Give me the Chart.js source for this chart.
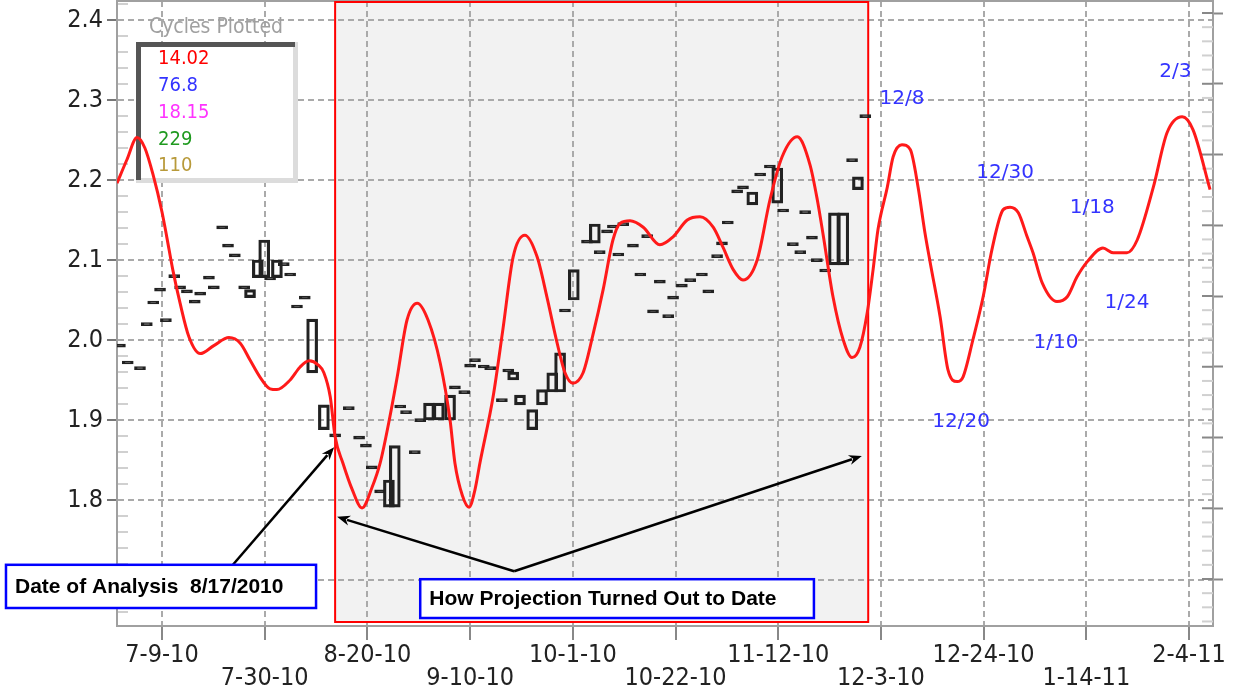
<!DOCTYPE html>
<html>
<head>
<meta charset="utf-8">
<script src="https://cdn.jsdelivr.net/npm/chart.js@4.4.1/dist/chart.umd.min.js"></script>
<style>
  html, body { margin: 0; padding: 0; background: #fff; }
  #wrap { width: 1234px; height: 696px; }
</style>
</head>
<body>
<div id="wrap"><canvas id="cycleChart" width="1234" height="696"></canvas></div>
<script>
// x values are days counted from 7/9/2010
const tickDays = [0, 21, 42, 63, 84, 105, 126, 147, 168, 189, 210];
const tickLabels = ['7-9-10', '7-30-10', '8-20-10', '9-10-10', '10-1-10', '10-22-10',
                    '11-12-10', '12-3-10', '12-24-10', '1-14-11', '2-4-11'];
const yTicks = [1.7, 1.8, 1.9, 2.0, 2.1, 2.2, 2.3, 2.4];

// composite cycle projection (red)
const cycleDays = [-9.2, -7.2, -5.1, -3.5, -1.8, 0, 1.0, 2.2, 3.7, 5.5,
  7.8, 10.6, 13.7, 16.0, 18.0, 20.0, 22.1, 23.5, 26.2, 28.2,
  30.1, 31.9, 33.1, 34.4, 35.4, 37.0, 38.9, 40.9, 42.9, 44.6,
  46.6, 48.1, 50.1, 52.2, 54.4, 56.9, 58.9, 59.9, 61.4, 62.8,
  64.0, 65.0, 67.7, 69.7, 71.8, 74.2, 76.7, 78.7, 80.8, 82.4,
  84.0, 86.1, 88.1, 90.2, 92.2, 93.7, 95.7, 98.4, 101.8, 104.5,
  107.4, 110.0, 112.7, 114.7, 116.8, 118.8, 121.7, 124.3, 126.8, 129.9,
  132.5, 134.0, 135.2, 137.2, 139.3, 141.1, 142.7, 144.2, 145.4, 146.4,
  148.3, 149.5, 151.3, 153.0, 154.6, 156.0, 157.1, 159.1, 160.7, 162.6,
  163.8, 165.8, 167.9, 169.7, 172.0, 173.4, 175.1, 176.9, 178.1, 180.0,
  183.0, 185.1, 187.1, 189.2, 192.4, 194.5, 197.3, 199.4, 202.7, 205.5, 208.6,
  210.8, 214.3];
const cycleValues = [2.196, 2.225, 2.253, 2.240, 2.206, 2.160, 2.128, 2.088, 2.046, 2.004,
  1.983, 1.993, 2.003, 1.996, 1.975, 1.954, 1.939, 1.938, 1.950, 1.966,
  1.974, 1.969, 1.959, 1.929, 1.879, 1.846, 1.813, 1.790, 1.815, 1.846,
  1.904, 1.954, 2.025, 2.046, 2.025, 1.971, 1.900, 1.846, 1.806, 1.791,
  1.813, 1.846, 1.929, 2.013, 2.104, 2.131, 2.104, 2.054, 1.996, 1.959,
  1.946, 1.959, 2.006, 2.063, 2.125, 2.146, 2.149, 2.141, 2.119, 2.129,
  2.150, 2.154, 2.141, 2.116, 2.088, 2.075, 2.100, 2.175, 2.229, 2.254,
  2.219, 2.175, 2.131, 2.054, 2.000, 1.978, 1.991, 2.034, 2.088, 2.138,
  2.191, 2.229, 2.244, 2.238, 2.191, 2.134, 2.096, 2.029, 1.963, 1.948,
  1.954, 2.000, 2.054, 2.113, 2.163, 2.166, 2.159, 2.129, 2.109, 2.071,
  2.048, 2.054, 2.079, 2.098, 2.115, 2.109, 2.109, 2.125, 2.191, 2.259, 2.279,
  2.263, 2.188];

// daily price bars (black)
const priceDays = [-8.6, -7.0, -4.5, -3.1, -1.8, -0.4, 0.8, 2.5, 3.7, 5.1,
  6.7, 7.8, 9.6, 10.6, 12.3, 13.5, 14.9, 16.8, 18.0, 19.6,
  20.9, 22.1, 23.5, 24.9, 26.2, 27.6, 29.2, 30.7, 33.1, 35.4,
  38.2, 40.3, 41.7, 42.9, 44.6, 46.4, 47.6, 48.7, 49.9, 51.7,
  52.8, 54.6, 56.6, 58.9, 59.9, 61.8, 63.0, 64.0, 65.8, 67.1,
  69.5, 70.8, 71.8, 73.2, 75.7, 77.7, 79.8, 81.4, 82.4, 84.2,
  86.9, 88.5, 89.5, 91.0, 92.2, 93.3, 94.3, 96.3, 97.8, 99.2,
  100.4, 101.8, 103.5, 104.5, 106.3, 108.0, 110.4, 111.7, 113.5, 114.5,
  115.7, 117.6, 118.8, 120.7, 122.3, 124.3, 125.8, 127.0, 129.0, 130.5,
  131.5, 132.9, 133.9, 135.6, 137.4, 139.3, 141.1, 142.3, 143.8];
const priceLow = [1.991, 1.970, 1.963, 2.018, 2.045, 2.061, 2.023, 2.078, 2.064, 2.059,
  2.046, 2.056, 2.076, 2.064, 2.139, 2.116, 2.104, 2.064, 2.053, 2.078,
  2.078, 2.075, 2.078, 2.093, 2.080, 2.040, 2.051, 1.959, 1.888, 1.879,
  1.913, 1.876, 1.866, 1.839, 1.809, 1.791, 1.791, 1.915, 1.908, 1.858,
  1.898, 1.900, 1.900, 1.900, 1.939, 1.933, 1.966, 1.973, 1.965, 1.963,
  1.923, 1.960, 1.950, 1.919, 1.888, 1.919, 1.935, 1.935, 2.035, 2.050,
  2.121, 2.121, 2.108, 2.134, 2.140, 2.105, 2.143, 2.116, 2.080, 2.128,
  2.034, 2.071, 2.028, 2.051, 2.066, 2.073, 2.080, 2.059, 2.103, 2.119,
  2.145, 2.184, 2.189, 2.169, 2.205, 2.215, 2.171, 2.160, 2.118, 2.108,
  2.158, 2.126, 2.098, 2.085, 2.094, 2.094, 2.223, 2.188, 2.278];
const priceHigh = [1.991, 1.970, 1.963, 2.018, 2.045, 2.061, 2.023, 2.078, 2.064, 2.059,
  2.046, 2.056, 2.076, 2.064, 2.139, 2.116, 2.104, 2.064, 2.063, 2.100,
  2.125, 2.075, 2.100, 2.093, 2.080, 2.040, 2.051, 2.026, 1.919, 1.879,
  1.913, 1.876, 1.866, 1.839, 1.809, 1.825, 1.868, 1.915, 1.908, 1.858,
  1.898, 1.921, 1.921, 1.931, 1.939, 1.933, 1.966, 1.973, 1.965, 1.963,
  1.923, 1.960, 1.960, 1.931, 1.913, 1.938, 1.959, 1.984, 2.035, 2.088,
  2.121, 2.145, 2.108, 2.134, 2.140, 2.105, 2.143, 2.116, 2.080, 2.128,
  2.034, 2.071, 2.028, 2.051, 2.066, 2.073, 2.080, 2.059, 2.103, 2.119,
  2.145, 2.184, 2.189, 2.185, 2.205, 2.215, 2.215, 2.160, 2.118, 2.108,
  2.158, 2.126, 2.098, 2.085, 2.159, 2.159, 2.223, 2.204, 2.278];

// "Cycles Plotted" box
const cyclePeriods = ['14.02', '76.8', '18.15', '229', '110'];
const cycleColors = ['#ff0000', '#3333ff', '#ff33ff', '#1f9a1f', '#b89a3a'];

// projected turning dates (blue labels)
const turnLabels = ['12/8', '12/20', '12/30', '1/10', '1/18', '1/24', '2/3'];
const turnDays = [151.3, 163.4, 172.4, 182.8, 190.2, 197.3, 207.2];
const turnValues = [2.301, 1.898, 2.209, 1.996, 2.165, 2.046, 2.335];

// window checked after the analysis date
const checkStartDay = 35.4;
const checkEndDay = 144.4;

// callout boxes and arrows, in chart units
const noteTexts = ['Date of Analysis  8/17/2010', 'How Projection Turned Out to Date'];
const noteLeft = [-31.9, 52.8];
const noteRight = [31.5, 133.3];
const noteTop = [1.719, 1.701];
const noteBottom = [1.665, 1.6525];
const arrowFrom = [[14.5, 1.719], [72.0, 1.711], [72.0, 1.711]];
const arrowTo = [[35.2, 1.866], [35.8, 1.779], [143.1, 1.855]];

const tahoma = "'DejaVu Sans Condensed', 'Liberation Sans', sans-serif";
const verdana = "'DejaVu Sans', Verdana, sans-serif";
const frameGray = '#a0a0a0';

function drawArrow(ctx, x1, y1, x2, y2) {
  const ang = Math.atan2(y2 - y1, x2 - x1);
  const len = 13, half = 5;
  ctx.beginPath();
  ctx.moveTo(x1, y1);
  ctx.lineTo(x2 - Math.cos(ang) * len * 0.8, y2 - Math.sin(ang) * len * 0.8);
  ctx.stroke();
  ctx.beginPath();
  ctx.moveTo(x2, y2);
  ctx.lineTo(x2 - Math.cos(ang) * len + Math.sin(ang) * half, y2 - Math.sin(ang) * len - Math.cos(ang) * half);
  ctx.lineTo(x2 - Math.cos(ang) * len * 0.7, y2 - Math.sin(ang) * len * 0.7);
  ctx.lineTo(x2 - Math.cos(ang) * len - Math.sin(ang) * half, y2 - Math.sin(ang) * len + Math.cos(ang) * half);
  ctx.closePath();
  ctx.fill();
}

const decorations = {
  id: 'decorations',
  beforeDraw(chart) {
    const { ctx, chartArea: ca, scales: { x } } = chart;
    ctx.save();
    ctx.fillStyle = '#fff';
    ctx.fillRect(0, 0, chart.width, chart.height);
    const x0 = x.getPixelForValue(checkStartDay), x1 = x.getPixelForValue(checkEndDay);
    ctx.fillStyle = '#f2f2f2';
    ctx.fillRect(x0, ca.top + 1, x1 - x0, ca.bottom - ca.top - 5);
    ctx.restore();
  },
  beforeDatasetsDraw(chart) {
    const { ctx, chartArea: ca, scales: { x, y, y2 } } = chart;
    ctx.save();
    // top frame line
    ctx.strokeStyle = frameGray;
    ctx.lineWidth = 2;
    ctx.beginPath();
    ctx.moveTo(ca.left, ca.top);
    ctx.lineTo(ca.right, ca.top);
    ctx.stroke();
    // minor ticks, left axis (inside)
    ctx.strokeStyle = '#d0d0d0';
    for (let k = 83; k <= 121; k++) {
      if (k % 5 === 0) continue;
      const py = y.getPixelForValue(k / 50);
      ctx.beginPath();
      ctx.moveTo(ca.left + 1, py);
      ctx.lineTo(ca.left + 11, py);
      ctx.stroke();
    }
    // right axis (unlabelled) ticks, inner part
    for (let k = -3; k <= 40; k++) {
      const py = y2.getPixelForValue(k / 5);
      ctx.strokeStyle = k % 5 === 0 ? '#888' : '#d0d0d0';
      ctx.beginPath();
      ctx.moveTo(ca.right - 11, py);
      ctx.lineTo(ca.right, py);
      ctx.stroke();
    }
    // red frame round the checked window
    const x0 = x.getPixelForValue(checkStartDay), x1 = x.getPixelForValue(checkEndDay);
    ctx.strokeStyle = '#ff0000';
    ctx.lineWidth = 2;
    ctx.strokeRect(x0, ca.top + 1, x1 - x0, ca.bottom - ca.top - 5);

    // "Cycles Plotted" box
    const lx = ca.left + 19, ly = ca.top + 41, lw = 162, lh = 141;
    ctx.fillStyle = '#fff';
    ctx.fillRect(lx, ly, lw, lh);
    ctx.fillStyle = '#dcdcdc';
    ctx.fillRect(lx + lw - 5, ly, 5, lh);
    ctx.fillRect(lx, ly + lh - 5, lw, 5);
    ctx.fillStyle = '#555';
    ctx.fillRect(lx, ly, lw - 3, 5);
    ctx.fillRect(lx, ly, 5, lh - 3);
    ctx.font = '21px ' + tahoma;
    ctx.textAlign = 'center';
    ctx.textBaseline = 'middle';
    ctx.fillStyle = '#a0a0a0';
    ctx.fillText('Cycles Plotted', lx + 80, ca.top + 27);
    ctx.font = '20px ' + tahoma;
    ctx.textAlign = 'left';
    cyclePeriods.forEach((t, i) => {
      ctx.fillStyle = cycleColors[i];
      ctx.fillText(t, lx + 22, ly + 17 + i * 26.8);
    });
    ctx.restore();
  },
  afterDraw(chart) {
    const { ctx, scales: { x, y } } = chart;
    ctx.save();
    ctx.strokeStyle = '#000';
    ctx.fillStyle = '#000';
    ctx.lineWidth = 2.5;
    arrowFrom.forEach((p, i) => {
      drawArrow(ctx, x.getPixelForValue(p[0]), y.getPixelForValue(p[1]),
        x.getPixelForValue(arrowTo[i][0]), y.getPixelForValue(arrowTo[i][1]));
    });
    noteTexts.forEach((t, i) => {
      const bx = x.getPixelForValue(noteLeft[i]), by = y.getPixelForValue(noteTop[i]);
      const bw = x.getPixelForValue(noteRight[i]) - bx, bh = y.getPixelForValue(noteBottom[i]) - by;
      ctx.fillStyle = '#fff';
      ctx.fillRect(bx, by, bw, bh);
      ctx.strokeStyle = '#0000ff';
      ctx.lineWidth = 2.5;
      ctx.strokeRect(bx, by, bw, bh);
      ctx.fillStyle = '#000';
      ctx.font = "bold 21px 'Liberation Sans', Arial, sans-serif";
      ctx.textAlign = 'left';
      ctx.textBaseline = 'middle';
      ctx.fillText(t, bx + 9, by + bh / 2 + 1);
    });
    ctx.font = '20px ' + verdana;
    ctx.textAlign = 'center';
    ctx.textBaseline = 'middle';
    ctx.fillStyle = '#3434ff';
    turnLabels.forEach((t, i) => {
      ctx.fillText(t, x.getPixelForValue(turnDays[i]), y.getPixelForValue(turnValues[i]));
    });
    ctx.restore();
  }
};

new Chart(document.getElementById('cycleChart').getContext('2d'), {
  type: 'line',
  data: {
    datasets: [{
      type: 'line',
      label: 'Cycle projection',
      data: cycleDays.map((d, i) => ({ x: d, y: cycleValues[i] })),
      borderColor: '#ff1a1a',
      borderWidth: 3,
      pointRadius: 0,
      cubicInterpolationMode: 'monotone',
      order: 0
    }, {
      type: 'bar',
      label: 'Price',
      data: priceDays.map((d, i) => ({ x: d, y: [priceLow[i], priceHigh[i]] })),
      // flat days show as solid dashes, ranged days as hollow boxes
      backgroundColor: priceLow.map((v, i) => (v === priceHigh[i] ? '#222' : 'rgba(0,0,0,0)')),
      borderColor: '#222',
      borderWidth: 2.5,
      borderSkipped: false,
      barThickness: 11,
      minBarLength: 3,
      grouped: false,
      order: 1
    }]
  },
  options: {
    responsive: false,
    animation: false,
    devicePixelRatio: 1,
    layout: { padding: { top: 1, right: 0, left: 0, bottom: 0 } },
    plugins: { legend: { display: false }, tooltip: { enabled: false } },
    scales: {
      x: {
        type: 'linear',
        min: -9.2,
        max: 214.9,
        offset: false,
        afterBuildTicks: s => { s.ticks = tickDays.map(v => ({ value: v })); },
        afterFit: s => { s.height = 70; s.paddingLeft = 0; s.paddingRight = 0; },
        ticks: {
          autoSkip: false, maxRotation: 0, minRotation: 0, padding: 4,
          color: '#222',
          font: { family: tahoma, size: 25, lineHeight: '23px' },
          callback: (v, i) => (i % 2 ? ['', tickLabels[i]] : [tickLabels[i], ''])
        },
        grid: { offset: false, color: '#aaa', lineWidth: 2, tickLength: 14, tickColor: '#888', tickWidth: 2, tickBorderDash: [] },
        border: { display: true, color: frameGray, width: 2, dash: [6, 4] }
      },
      y: {
        position: 'left',
        min: 1.6425,
        max: 2.42375,
        afterBuildTicks: s => { s.ticks = yTicks.map(v => ({ value: v })); },
        afterFit: s => { s.width = 117; s.paddingTop = 0; s.paddingBottom = 0; },
        ticks: {
          autoSkip: false, padding: 4, color: '#222',
          font: { family: tahoma, size: 25 },
          callback: v => v.toFixed(1)
        },
        grid: { color: '#aaa', lineWidth: 2, tickLength: 10, tickColor: '#777', tickWidth: 2, tickBorderDash: [] },
        border: { display: true, color: frameGray, width: 2, dash: [6, 4] }
      },
      y2: {
        position: 'right',
        min: -0.664,
        max: 8.17,
        afterBuildTicks: s => { s.ticks = [0, 1, 2, 3, 4, 5, 6, 7, 8].map(v => ({ value: v })); },
        afterFit: s => { s.width = 21; s.paddingTop = 0; s.paddingBottom = 0; },
        ticks: { display: false },
        grid: { drawOnChartArea: false, tickLength: 10, tickColor: '#888', tickWidth: 2 },
        border: { display: true, color: frameGray, width: 2 }
      }
    }
  },
  plugins: [decorations]
});
</script>
</body>
</html>
